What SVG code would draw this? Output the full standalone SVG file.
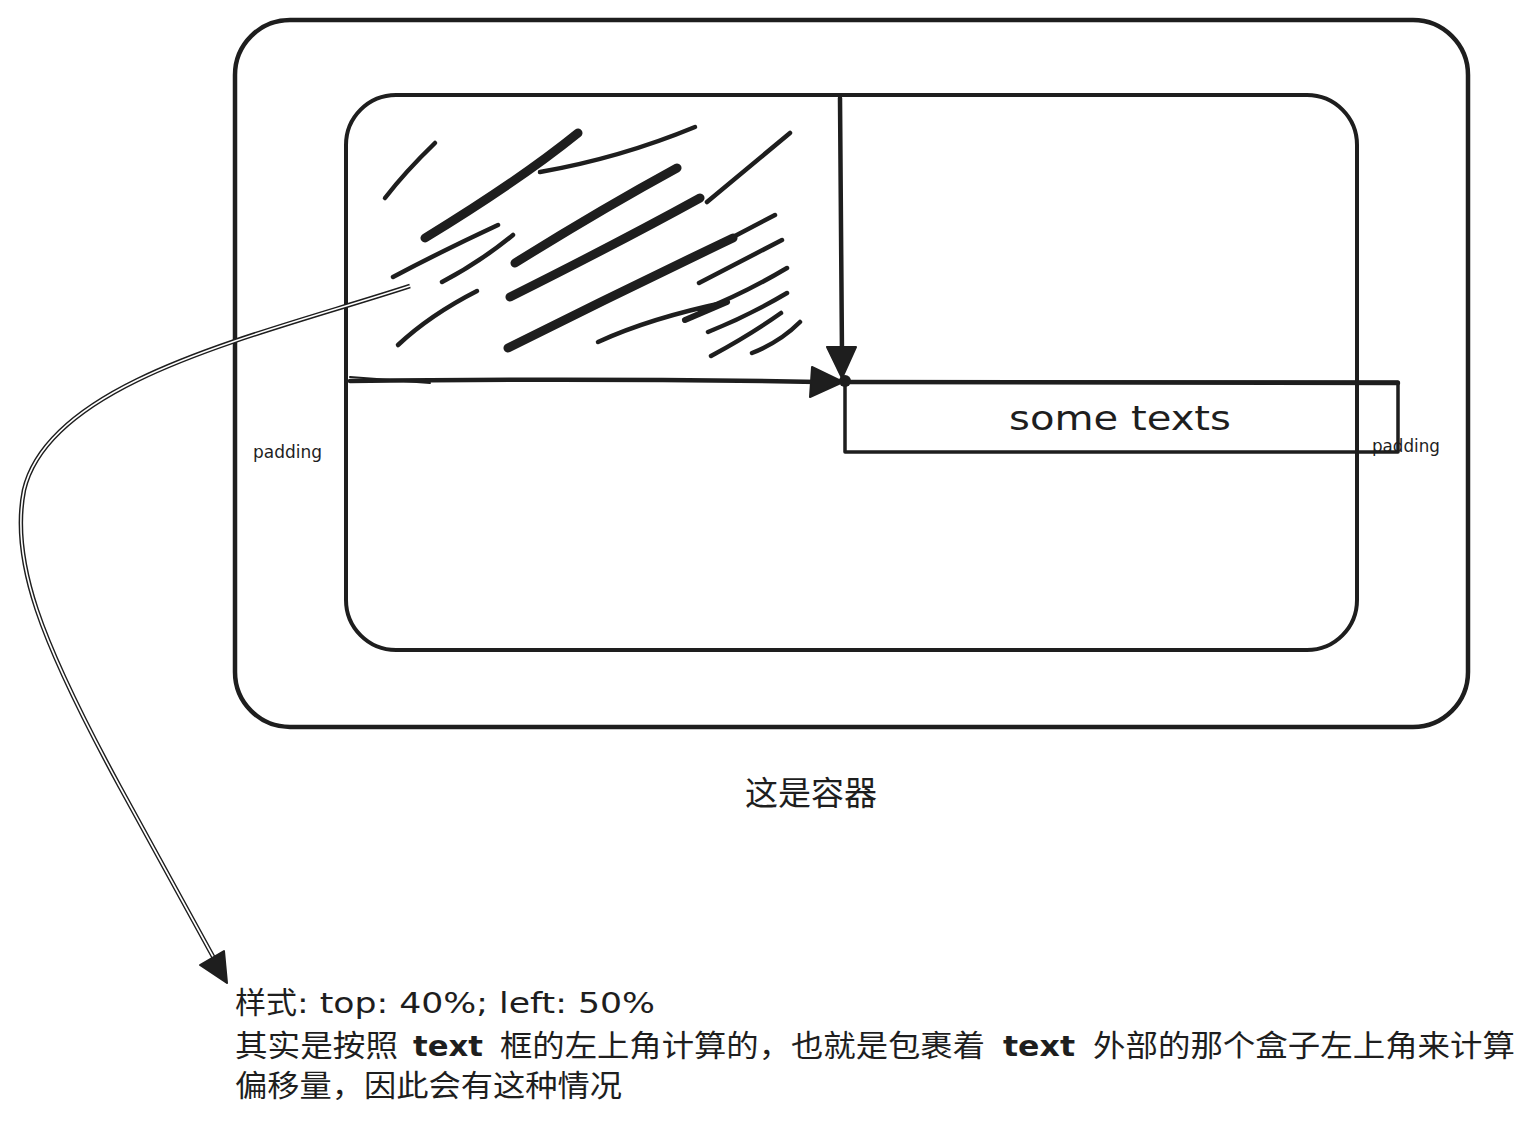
<svg xmlns="http://www.w3.org/2000/svg" width="1536" height="1128" viewBox="0 0 1536 1128">
<style>
.box{fill:none;stroke:#1e1e1e;stroke-linecap:round;stroke-linejoin:round}
.h{fill:none;stroke:#1e1e1e;stroke-linecap:round}
.t4{stroke-width:4.5}
.t9{stroke-width:9}
.cjk{font-family:"Noto Sans CJK SC","Noto Sans",sans-serif;fill:#1e1e1e}
.hand{font-family:"DejaVu Sans","Noto Sans",sans-serif;fill:#1e1e1e}
</style>
<rect width="1536" height="1128" fill="#ffffff"/>
<g id="outer-container">
<rect class="box" x="235" y="20" width="1233" height="707" rx="55" stroke-width="4.5"/>
</g>
<g id="inner-container">
<rect class="box" x="346" y="95" width="1011" height="555" rx="50" stroke-width="4"/>
</g>
<g id="hatch-area">
<path class="h t4" d="M435 143 Q405 172 385 198"/>
<path class="h t9" d="M578 133 Q520 180 425 238"/>
<path class="h t4" d="M540 172 Q620 158 695 127"/>
<path class="h t4" d="M790 133 L707 202"/>
<path class="h t9" d="M677 168 Q600 210 515 263"/>
<path class="h t9" d="M700 198 Q620 242 510 297"/>
<path class="h t4" d="M498 225 Q440 252 393 277"/>
<path class="h t4" d="M513 235 Q480 262 442 282"/>
<path class="h t4" d="M477 291 Q430 315 398 345"/>
<path class="h t9" d="M733 238 Q620 292 508 348"/>
<path class="h t4" d="M775 215 L733 237"/>
<path class="h t4" d="M782 240 L699 283"/>
<path class="h t4" d="M787 268 Q745 293 700 311"/>
<path class="h" stroke-width="6" d="M727 302 L685 320"/>
<path class="h t4" d="M727 302 Q650 318 598 342"/>
<path class="h t4" d="M787 293 Q750 315 708 332"/>
<path class="h t4" d="M781 313 Q750 335 711 356"/>
<path class="h t4" d="M800 322 Q780 342 752 353"/>
</g>
<g id="text-box">
<path class="box" stroke-width="3.5" d="M845 382 L1398 382 L1398 452 L845 452 Z"/>
<path class="h" stroke-width="4.5" d="M845 382 L1398 383"/>
<text class="hand" x="1120" y="430" font-size="34" text-anchor="middle" textLength="222" lengthAdjust="spacingAndGlyphs">some texts</text>
</g>
<g id="labels">
<text class="hand" x="253" y="458" font-size="17" textLength="69" lengthAdjust="spacingAndGlyphs">padding</text>
<text class="hand" x="1372" y="452" font-size="17" textLength="68" lengthAdjust="spacingAndGlyphs">padding</text>
<text class="cjk" x="811" y="805" font-size="33" text-anchor="middle">这是容器</text>
</g>
<g id="connectors">
<path class="h" stroke-width="4.5" d="M350 381 Q600 378 818 382"/>
<path class="h" stroke-width="2" d="M350 377 L430 383"/>
<polygon points="812,367 810,397 843,382" fill="#1e1e1e" stroke="#1e1e1e" stroke-width="2" stroke-linejoin="round"/>
<path class="h" stroke-width="4.5" d="M840 98 L842 355"/>
<polygon points="827,347 856,347 842,378" fill="#1e1e1e" stroke="#1e1e1e" stroke-width="2" stroke-linejoin="round"/>
<circle cx="845" cy="381" r="6" fill="#1e1e1e"/>
<path d="M410 286 C260 335 50 380 24 490 C10 560 40 640 120 787 L216 962" fill="none" stroke="#1e1e1e" stroke-width="4.5"/>
<path d="M410 286 C260 335 50 380 24 490 C10 560 40 640 120 787 L216 962" fill="none" stroke="#ffffff" stroke-width="1.6"/>
<polygon points="200,965 224,951 227,983" fill="#1e1e1e" stroke="#1e1e1e" stroke-width="2" stroke-linejoin="round"/>
</g>
<g id="note">
<text class="cjk" x="235" y="1013" font-size="30" textLength="62" lengthAdjust="spacingAndGlyphs">样式</text>
<text class="hand" x="297" y="1013" font-size="28" textLength="358" lengthAdjust="spacingAndGlyphs">: top: 40%; left: 50%</text>
<text class="cjk" x="235" y="1056" font-size="30" textLength="163" lengthAdjust="spacingAndGlyphs">其实是按照</text>
<text class="hand" x="413" y="1056" font-weight="bold" font-size="28" textLength="70" lengthAdjust="spacingAndGlyphs">text</text>
<text class="cjk" x="500" y="1056" font-size="30" textLength="485" lengthAdjust="spacingAndGlyphs">框的左上角计算的，也就是包裹着</text>
<text class="hand" x="1003" y="1056" font-weight="bold" font-size="28" textLength="72" lengthAdjust="spacingAndGlyphs">text</text>
<text class="cjk" x="1093" y="1056" font-size="30" textLength="422" lengthAdjust="spacingAndGlyphs">外部的那个盒子左上角来计算</text>
<text class="cjk" x="235" y="1096" font-size="30" textLength="387" lengthAdjust="spacingAndGlyphs">偏移量，因此会有这种情况</text>
</g>
</svg>
